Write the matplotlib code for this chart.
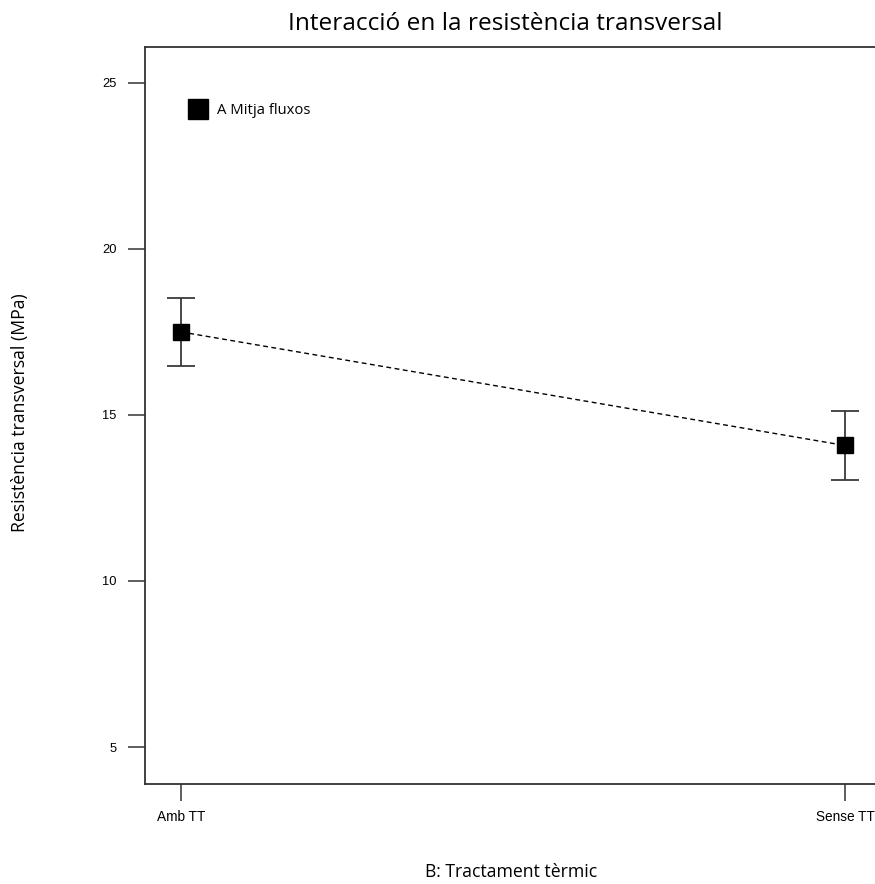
import matplotlib
matplotlib.use("Agg")
import matplotlib.pyplot as plt
from matplotlib.ticker import FixedLocator

# data
categories = ["Amb TT", "Sense TT"]
means = [17.5, 14.08]
upper = [18.53, 15.12]
lower = [16.48, 13.05]
y_ticks = [5, 10, 15, 20, 25]

label_font = "Open Sans"
tick_font = "Liberation Sans"

fig = plt.figure(figsize=(8.75, 8.84), dpi=100)
ax = fig.add_axes([145 / 875, 1 - 784 / 884, 736 / 875, 737 / 884])

x = list(range(len(categories)))
err_lo = [m - l for m, l in zip(means, lower)]
err_hi = [u - m for m, u in zip(means, upper)]

ax.errorbar(x, means, yerr=[err_lo, err_hi], fmt="none", ecolor="#3a3a3a",
            elinewidth=1.3, capsize=10, capthick=1.3, zorder=2)
ax.plot(x, means, color="black", linestyle=(0, (3.5, 2.5)), linewidth=1.0, zorder=3)
ax.plot(x, means, linestyle="none", marker="s", markersize=11,
        color="black", zorder=4, label="A Mitja fluxos")

ax.set_xlim(-0.0542, 1.0542)
ax.set_ylim(3.886, 26.08)
ax.set_xticks(x)
ax.set_xticklabels(categories, fontfamily=tick_font, fontsize=9.8)
ax.yaxis.set_major_locator(FixedLocator(y_ticks))
ax.set_yticklabels([str(v) for v in y_ticks], fontfamily=tick_font, fontsize=9.3)
ax.tick_params(axis="both", direction="out", length=12.5, width=1.1, color="#333333")
ax.tick_params(axis="y", pad=8)
ax.tick_params(axis="x", pad=6)

for sp in ax.spines.values():
    sp.set_color("#333333")
    sp.set_linewidth(1.3)

ax.set_title("Interacció en la resistència transversal", fontfamily=label_font,
             fontsize=17.6, pad=12, x=(505 - 145) / 736)
ax.set_xlabel("B: Tractament tèrmic", fontfamily=label_font, fontsize=12.7, va="center")
ax.set_ylabel("Resistència transversal (MPa)", fontfamily=label_font, fontsize=12.7, va="center")
ax.xaxis.set_label_coords((511 - 145) / 736, (784 - 872) / 737)
ax.yaxis.set_label_coords((20 - 145) / 736, (784 - 413) / 737)

leg = ax.legend(loc="upper left", bbox_to_anchor=(0.046, 0.942), frameon=False,
                markerscale=1.3, handlelength=0.8, handletextpad=0.9,
                prop={"family": label_font, "size": 10.7})

fig.savefig("out.png", dpi=100)
